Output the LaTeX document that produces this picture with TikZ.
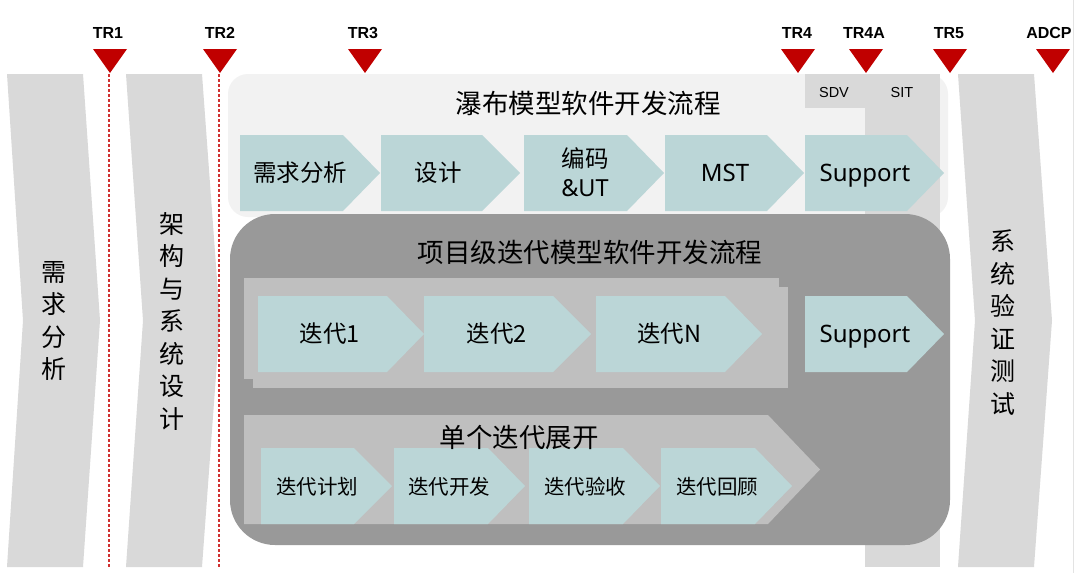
\documentclass[tikz,border=0pt]{standalone}
\usepackage{fontspec}
\newfontfamily\cjk{Noto Sans CJK SC}
\newfontfamily\lat{Noto Sans}
\newfontfamily\arial{Liberation Sans}
\definecolor{tealc}{HTML}{BBD6D7}
\definecolor{lightbg}{HTML}{F2F2F2}
\definecolor{colgray}{HTML}{D9D9D9}
\definecolor{darkbg}{HTML}{999999}
\definecolor{stackgray}{HTML}{BFBFBF}
\definecolor{redc}{HTML}{C00000}
\definecolor{dashred}{HTML}{D03030}
\definecolor{edgeline}{HTML}{E3E3E3}
\newcommand\hplate[6]{%
  \fill[#1] (#2,#4) -- ({#3-#6},#4) -- (#3,{(#4+#5)/2}) -- ({#3-#6},#5) -- (#2,#5) -- cycle;}
\newcommand\vchev[7]{%
  \fill[#1] (#2,#4) -- (#3,#4) -- ({#3+#7},{(#4+#5)/2}) -- (#3,#5) -- (#2,#5) -- ({#2+#6},{(#4+#5)/2}) -- cycle;}
\newcommand\trmark[1]{\fill[redc] ({#1-17},49) -- ({#1+17},49) -- (#1,73) -- cycle;}
\tikzset{
  trlabel/.style={font=\arial\bfseries\fontsize{16}{16}\selectfont, inner sep=0pt},
  smalllabel/.style={font=\arial\fontsize{14.5}{14.5}\selectfont, inner sep=0pt},
  bigtitle/.style={font=\cjk\fontsize{26.5}{26.5}\selectfont, inner sep=0pt},
  steplabel/.style={font=\cjk\fontsize{23.5}{29}\selectfont, inner sep=0pt, align=center},
  latlabel/.style={font=\lat\fontsize{24}{24}\selectfont, inner sep=0pt, anchor=base},
  iterlabel/.style={font=\cjk\fontsize{23.5}{23.5}\selectfont, inner sep=0pt},
  sublabel/.style={font=\cjk\fontsize{20.5}{20.5}\selectfont, inner sep=0pt},
  vertlabel/.style={font=\cjk\fontsize{25}{32.5}\selectfont, inner sep=0pt, align=center},
  trline/.style={draw=dashred, line width=1.1pt, dash pattern=on 3pt off 2pt},
}
\begin{document}
\begin{tikzpicture}[x=1pt,y=-1pt]
\useasboundingbox (0,0) rectangle (1080,573);
\fill[white] (0,0) rectangle (1080,573);
\draw[edgeline, line width=1pt] (1073,0) -- (1073,573);
% side columns
\vchev{colgray}{7}{83}{74}{567}{16}{17}
\vchev{colgray}{126}{202}{74}{567}{17}{18}
\vchev{colgray}{958}{1034}{74}{567}{17}{18}
% milestone lines
\coordinate (l1t) at (109,74); \coordinate (l1b) at (109,567);
\coordinate (l2t) at (219,74); \coordinate (l2b) at (219,567);
\draw[trline] (l1t) -- (l1b);
\draw[trline] (l2t) -- (l2b);
% waterfall box
\fill[lightbg, rounded corners=20pt] (228,74) rectangle (948,217);
\fill[colgray] (805,74) rectangle (865,108);
\fill[colgray] (865,74) rectangle (940,567);
\node[smalllabel] (sdv) at (834,93) {SDV};
\node[smalllabel] (sit) at (902,93) {SIT};
\node[bigtitle] (wtitle) at (588,103) {瀑布模型软件开发流程};
\hplate{tealc}{240}{380}{135}{211}{37}
\hplate{tealc}{381}{520}{135}{211}{38}
\hplate{tealc}{524}{664}{135}{211}{37}
\hplate{tealc}{665}{804}{135}{211}{37}
\hplate{tealc}{805}{944}{135}{211}{37}
\node[steplabel] (w1) at (300,173) {需求分析};
\node[steplabel] (w2) at (438,173) {设计};
\node[steplabel] (w3) at (585,172) {编码\\{\lat\&UT}};
\node[latlabel] (w4) at (725,181) {MST};
\node[latlabel] (w5) at (865,181) {Support};
% iterative box
\fill[darkbg, rounded corners=45pt] (230,214) rectangle (950,545);
\node[bigtitle] (ititle) at (590,252) {项目级迭代模型软件开发流程};
\fill[stackgray] (244,278) rectangle (779,379);
\fill[stackgray] (253,287) rectangle (788,388);
\hplate{tealc}{258}{424}{296}{372}{37}
\hplate{tealc}{424}{591}{296}{372}{38}
\hplate{tealc}{596}{762}{296}{372}{37}
\hplate{tealc}{805}{944}{296}{372}{37}
\node[iterlabel] (i1) at (330,334) {迭代1};
\node[iterlabel] (i2) at (497,334) {迭代2};
\node[iterlabel] (i3) at (669,334) {迭代N};
\node[latlabel] (i4) at (865,342) {Support};
% single iteration
\hplate{stackgray}{244}{820}{415}{524}{52}
\hplate{tealc}{261}{392}{448}{524}{38}
\hplate{tealc}{394}{525}{448}{524}{37}
\hplate{tealc}{529}{660}{448}{524}{37}
\hplate{tealc}{661}{792}{448}{524}{37}
\node[bigtitle] (stitle) at (519,437) {单个迭代展开};
\node[sublabel] (s1) at (317,487) {迭代计划};
\node[sublabel] (s2) at (449,487) {迭代开发};
\node[sublabel] (s3) at (585,487) {迭代验收};
\node[sublabel] (s4) at (717,487) {迭代回顾};
% vertical column labels
\node[vertlabel] (c1) at (54,321) {需\\求\\分\\析};
\node[vertlabel] (c2) at (172,321.5) {架\\构\\与\\系\\统\\设\\计};
\node[vertlabel] (c3) at (1003,322.5) {系\\统\\验\\证\\测\\试};
% milestones
\trmark{110}\trmark{220}\trmark{365}\trmark{798}\trmark{866}\trmark{950}\trmark{1053}
\node[trlabel] (tr1) at (108,33) {TR1};
\node[trlabel] (tr2) at (220,33) {TR2};
\node[trlabel] (tr3) at (363,33) {TR3};
\node[trlabel] (tr4) at (797,33) {TR4};
\node[trlabel] (tr4a) at (864,33) {TR4A};
\node[trlabel] (tr5) at (949,33) {TR5};
\node[trlabel] (adcp) at (1049,33) {ADCP};
\end{tikzpicture}
\end{document}
